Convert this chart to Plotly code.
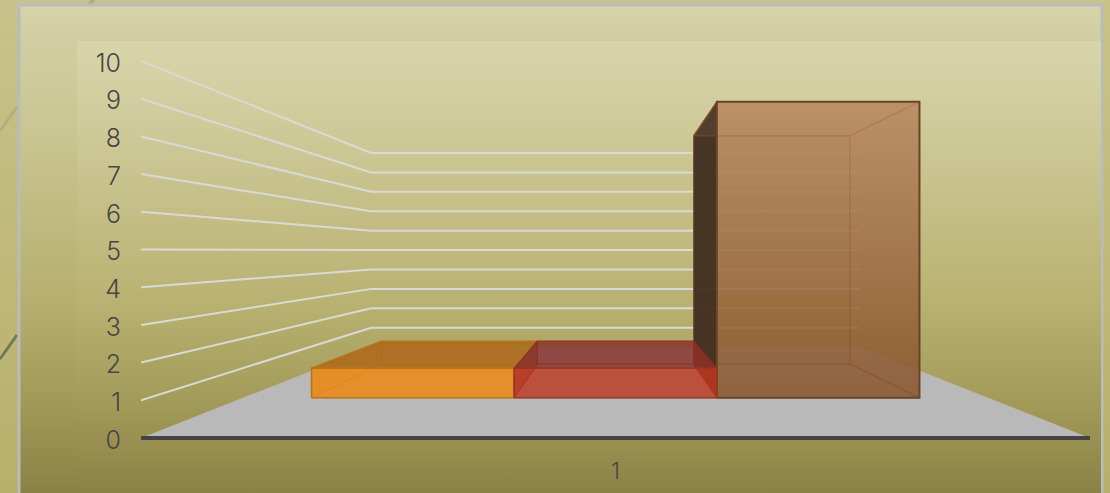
import plotly.graph_objects as go

# ---- data ----
categories = ["1"]
series_a = [1]
series_b = [1]
series_c = [10]
value_ticks = [0, 1, 2, 3, 4, 5, 6, 7, 8, 9, 10]

# ---- perspective of the chart's box, in axis units ----
W, H = 1110, 493
HORIZON = 4.97        # value that stays level
S_WALL = 0.515        # scale of the back wall
S_BAR_FRONT = 0.785   # scale of the front of the bars
S_BAR_BACK = 0.605    # scale of the back of the bars
BAR_W = 0.272         # bar width, category units
CAT = 1.0
PAD = 0.3             # spare value range so the heavy floor line is not clipped
PITCH = 37.7


def proj(c, v, s):
    """Category position / value at a depth scale -> axis coordinates."""
    return CAT + s * (c - CAT), HORIZON + s * (v - HORIZON)


def poly(points):
    xs, ys = zip(*points)
    return list(xs) + [xs[0]], list(ys) + [ys[0]]


fig = go.Figure()


def px_gradient(stops, y0, y1):
    return [[(y - y0) / (y1 - y0), col] for y, col in stops]


def panel(x0, x1, y0, y1, stops, line=None):
    fig.add_trace(go.Scatter(
        x=[x0, x1, x1, x0, x0], y=[y0, y0, y1, y1, y0], xaxis="x", yaxis="y",
        mode="lines", fill="toself",
        line=dict(width=3 if line else 0, color=line or "rgba(0,0,0,0)"),
        fillgradient=dict(type="vertical", start=y0, stop=y1,
                          colorscale=px_gradient(stops, y0, y1)),
        hoverinfo="skip", showlegend=False))


def deco(xs, ys, col):
    fig.add_trace(go.Scatter(x=xs, y=ys, xaxis="x", yaxis="y", mode="lines",
                             line=dict(color=col, width=3),
                             hoverinfo="skip", showlegend=False))


# page, frame and inner panel
panel(0, 1110, 0, 493, [(0, "#C8C38A"), (493, "#B7AF6B")])
deco([0, 17], [131, 107], "#B3AF80")
deco([0, 17], [359, 335], "#707A52")
deco([87, 94], [6, 0], "#ADAA7E")
panel(19, 1102, 5, 496,
      [(5, "#D7D4AA"), (41, "#D1CDA0"), (120, "#CBC794"), (300, "#B6AF6F"),
       (400, "#A29A58"), (496, "#8A8044")], line="#B9BCBE")
panel(77, 1101, 41, 493,
      [(41, "#D8D5AA"), (120, "#CFCB9B"), (300, "#B9B272"), (400, "#A39B59"),
       (493, "#8B8146")])


def face(points, fill, line=None, width=1.5, gradient=None):
    x, y = poly(points)
    kw = dict(fillcolor=fill) if gradient is None else dict(fillgradient=gradient)
    fig.add_trace(go.Scatter(
        x=x, y=y, xaxis="x2", yaxis="y2", mode="lines", fill="toself",
        line=dict(color=line or "rgba(0,0,0,0)", width=width if line else 0),
        hoverinfo="skip", showlegend=False, cliponaxis=False, **kw))


def stroke(points, col, width):
    xs, ys = zip(*points)
    fig.add_trace(go.Scatter(
        x=xs, y=ys, xaxis="x2", yaxis="y2", mode="lines",
        line=dict(color=col, width=width), hoverinfo="skip",
        showlegend=False, cliponaxis=False))


# floor
L, R = CAT - 0.5, CAT + 0.5
face([proj(L, 0, 1), proj(R, 0, 1), proj(R, 0, S_WALL), proj(L, 0, S_WALL)], "#B9B9B9")

# gridlines: side wall then back wall
for v in value_ticks[1:]:
    stroke([proj(L, v, 1), proj(L, v, S_WALL), proj(R, v, S_WALL)], "#D9DAD6", 2)

stroke([proj(L, 0, 1), proj(R, 0, 1)], "#444446", 4)

styles = [
    dict(front="rgba(233,137,24,0.88)", top="rgba(172,106,24,0.90)",
         side="rgba(225,140,35,0.25)", back="rgba(0,0,0,0)",
         edge="#B9751B", inner="rgba(190,115,25,0.60)"),
    dict(front="rgba(187,54,31,0.80)", top="rgba(135,48,40,0.82)",
         side="rgba(150,50,35,0.60)", back="rgba(0,0,0,0)",
         edge="#99381F", inner="rgba(140,45,30,0.55)"),
    dict(front=None, top="rgba(190,145,105,0.10)",
         side="rgba(66,48,33,0.97)", back="rgba(150,105,65,0.10)",
         edge="#6A4426", inner="rgba(125,80,50,0.75)"),
]
series = [series_a, series_b, series_c]
start = CAT - BAR_W * len(series) / 2

# the tall bar goes first: the red bar's right face lies over its dark side
for i in (2, 0, 1):
    vals, st = series[i], styles[i]
    v = vals[0]
    c0, c1 = start + i * BAR_W, start + (i + 1) * BAR_W
    f, b = S_BAR_FRONT, S_BAR_BACK
    face([proj(c0, v, b), proj(c1, v, b), proj(c1, 0, b), proj(c0, 0, b)], st["back"],
         line=st["inner"], width=1.2)
    face([proj(c1, 0, f), proj(c1, v, f), proj(c1, v, b), proj(c1, 0, b)],
         st["side"] if i < 2 else "rgba(170,115,70,0.05)", line=st["inner"], width=1.2)
    face([proj(c0, 0, f), proj(c1, 0, f), proj(c1, 0, b), proj(c0, 0, b)],
         "rgba(0,0,0,0)", line=st["inner"], width=1.2)
    face([proj(c0, 0, f), proj(c0, v, f), proj(c0, v, b), proj(c0, 0, b)], st["side"],
         line=st["inner"], width=1.2)
    face([proj(c0, v, f), proj(c1, v, f), proj(c1, v, b), proj(c0, v, b)], st["top"],
         line=st["inner"], width=1.2)
    front_pts = [proj(c0, 0, f), proj(c1, 0, f), proj(c1, v, f), proj(c0, v, f)]
    if st["front"] is None:
        y_lo, y_hi = proj(c0, 0, f)[1], proj(c0, v, f)[1]
        face(front_pts, None, line=st["edge"], width=2, gradient=dict(
            type="vertical", start=y_lo, stop=y_hi,
            colorscale=[[0, "rgba(136,84,43,0.85)"], [1, "rgba(184,135,95,0.85)"]]))
    else:
        face(front_pts, st["front"], line=st["edge"], width=1.6)

text_col = "#454545"
bottom_px = 438 + PAD * PITCH
top_px = 61 - PAD * PITCH
fig.update_layout(
    width=W, height=H, margin=dict(l=0, r=0, t=0, b=0, pad=0, autoexpand=False),
    paper_bgcolor="rgba(0,0,0,0)", plot_bgcolor="rgba(0,0,0,0)", showlegend=False,
    font=dict(family="Inter", color=text_col),
    xaxis=dict(domain=[0, 1], range=[0, W], visible=False, fixedrange=True),
    yaxis=dict(domain=[0, 1], range=[H, 0], visible=False, fixedrange=True),
    xaxis2=dict(domain=[141 / W, 1090 / W], range=[L, R], anchor="y2",
                tickmode="array", tickvals=[CAT], ticktext=categories,
                showgrid=False, zeroline=False, showline=False, fixedrange=True,
                ticks="outside", ticklen=1, tickcolor="rgba(0,0,0,0)",
                tickfont=dict(family="Inter", size=23, color=text_col, weight=300)),
    yaxis2=dict(domain=[(H - bottom_px) / H, (H - top_px) / H],
                range=[-PAD, 10 + PAD], anchor="x2",
                tickmode="array", tickvals=value_ticks,
                ticktext=[str(t) for t in value_ticks],
                showgrid=False, zeroline=False, showline=False, fixedrange=True,
                ticks="outside", ticklen=14, tickcolor="rgba(0,0,0,0)",
                ticklabelshift=2,
                tickfont=dict(family="Inter", size=25, color=text_col, weight=300)),
)

fig.write_html("out.html", config=dict(displayModeBar=False),
               post_script="document.body.style.margin='0';document.body.style.overflow='hidden';")
